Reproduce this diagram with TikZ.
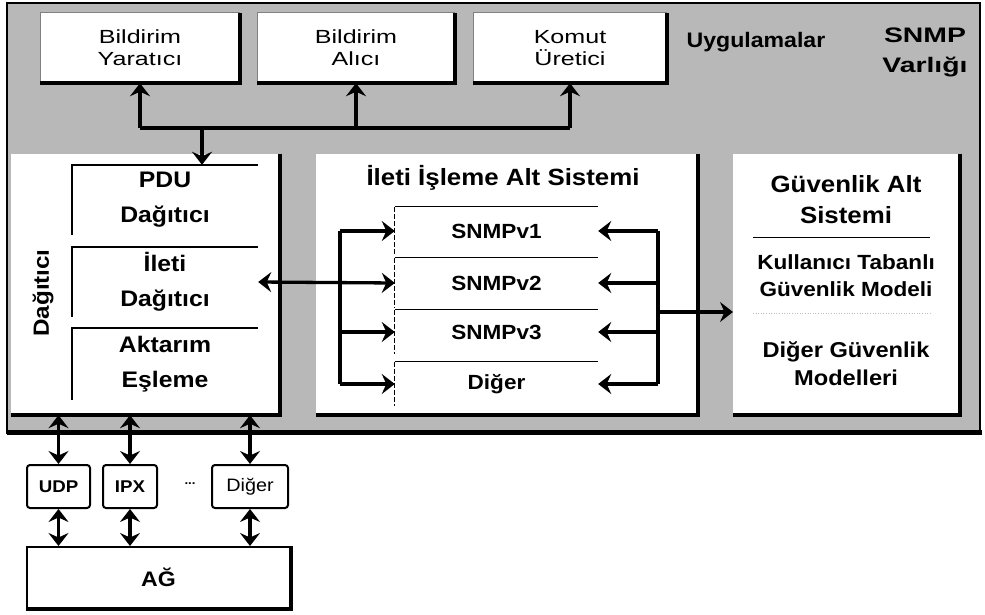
\documentclass[tikz,border=0pt]{standalone}
\usepackage{fontspec}
\setmainfont{Liberation Sans}[FakeStretch=1.1]
\newfontfamily\appfont{Liberation Sans}[FakeStretch=1.32]
\newfontfamily\widefont{Liberation Sans}[FakeStretch=1.35]
\usetikzlibrary{arrows.meta}
\definecolor{bggray}{gray}{0.72}

\begin{document}
\begin{tikzpicture}[x=1pt,y=-1pt,
  tip/.tip={Stealth[length=13pt,width=20pt,inset=4.5pt]},
  arr/.style={line width=3.3pt,-tip},
  darr/.style={line width=3.3pt,tip-tip},
  link/.style={line width=3.3pt},
  appbox/.style={fill=white,inner sep=0pt,align=center,
    font=\appfont\fontsize{19}{22}\selectfont},
  panel/.style={fill=white,inner sep=0pt},
  shadowline/.style={line width=3.5pt},
  subbox/.style={fill=white,inner sep=0pt,align=center,minimum width=186,
    font=\bfseries\fontsize{22.5}{35}\selectfont},
  protobox/.style={fill=white,inner sep=0pt,minimum width=203,
    font=\bfseries\fontsize{20.5}{24}\selectfont},
  bold/.style={inner sep=0pt,align=center,font=\bfseries\fontsize{#1}{#1}\selectfont},
  lowbox/.style={draw,fill=white,line width=2pt,rounded corners=3pt,inner sep=0pt,
    minimum height=43,font=\bfseries\fontsize{17}{20}\selectfont},
]
\useasboundingbox (0,0) rectangle (985,615);

% SNMP entity frame
\fill[bggray] (7,3) rectangle (980,433);
\draw[line width=2pt] (7,3) rectangle (980,433);
\draw[line width=5pt] (7,432) -- (982,432);

% applications
\node[appbox,minimum width=200,minimum height=70] (yar) at (140,48) {Bildirim\\Yaratıcı};
\node[appbox,minimum width=198,minimum height=70] (ali) at (356,48) {Bildirim\\Alıcı};
\node[appbox,minimum width=194,minimum height=70] (kom) at (570,48) {Komut\\Üretici};
\foreach \n in {yar,ali,kom}{
  \draw[line width=0.6pt,gray] (\n.south west) -- (\n.north west) -- (\n.north east);
  \draw[shadowline] (\n.north east) -- (\n.south east) -- (\n.south west);
}
\node[bold=21] (apps) at (756,42) {Uygulamalar};
\node[inner sep=0pt,align=center,font=\widefont\bfseries\fontsize{21}{30}\selectfont] (ent) at (925,52) {SNMP\\Varlığı};

% subsystem panels
\node[panel,minimum width=269,minimum height=261] (dag) at (145.5,284.5) {};
\node[panel,minimum width=382,minimum height=261] (ileti) at (507,284.5) {};
\node[panel,minimum width=227,minimum height=261] (guv) at (846.5,284.5) {};
\foreach \n in {dag,ileti,guv}
  \draw[shadowline] (\n.north east) -- (\n.south east) -- (\n.south west);

% dispatcher
\node[bold=22,rotate=90] (dagt) at (43,293) {Dağıtıcı};
\node[subbox,minimum height=70] (pdu) at (165,200) {PDU\\Dağıtıcı};
\node[subbox,minimum height=70] (idag) at (165,282) {İleti\\Dağıtıcı};
\node[subbox,minimum height=72] (akt) at (165,364) {Aktarım\\Eşleme};
\foreach \n in {pdu,idag,akt}
  \draw[line width=1.4pt] (\n.south west) -- (\n.north west) -- (\n.north east);

% message processing subsystem
\node[bold=23.5] (ititle) at (503,178) {İleti İşleme Alt Sistemi};
\node[protobox,minimum height=48] (s1) at (496.5,231) {SNMPv1};
\node[protobox,minimum height=50] (s2) at (496.5,283) {SNMPv2};
\node[protobox,minimum height=44] (s3) at (496.5,332) {SNMPv3};
\node[protobox,minimum height=44] (s4) at (496.5,384) {Diğer};
\foreach \n in {s1,s2,s3,s4}{
  \draw[line width=1.2pt] (\n.north west) -- (\n.north east);
  \draw[line width=1.2pt,dash pattern=on 5pt off 2pt] (\n.north west) -- (\n.south west);
}

% security subsystem
\node[bold=23.5,font=\bfseries\fontsize{23.5}{31}\selectfont] (g1) at (846,200) {Güvenlik Alt\\Sistemi};
\node[bold=20.5,font=\bfseries\fontsize{20.5}{27}\selectfont] (g2) at (846,276) {Kullanıcı Tabanlı\\Güvenlik Modeli};
\node[bold=21.5,font=\bfseries\fontsize{21.5}{28}\selectfont] (g3) at (846,364) {Diğer Güvenlik\\Modelleri};
\draw[line width=1pt] (753,237) -- (930,237);
\draw[line width=0.6pt,gray!50,dotted] (753,313) -- (930,313);

% application bus
\coordinate (bus) at (0,128);
\coordinate (dn) at (202,128);
\draw[link] (yar.south |- bus) -- (kom.south |- bus);
\draw[arr] (yar.south |- bus) -- (yar.south);
\draw[arr] (ali.south |- bus) -- (ali.south);
\draw[arr] (kom.south |- bus) -- (kom.south);
\draw[arr] (dn) -- (dn |- pdu.north);

% dispatcher <-> message processing models
\coordinate (bl) at (340,0);
\coordinate (br) at (658,0);
\draw[link] (bl |- s1.west) -- (bl |- s4.west);
\draw[link] (br |- s1.east) -- (br |- s4.east);
\draw[darr] (idag.east) -- (s2.west);
\foreach \n in {s1,s3,s4}
  \draw[arr] (bl |- \n.west) -- (\n.west);
\foreach \n in {s1,s2,s3,s4}
  \draw[arr] (br |- \n.east) -- (\n.east);
\coordinate (gin) at (733,312);
\draw[arr] (br |- gin) -- (gin);

% transport domains and network
\node[lowbox,minimum width=63] (udp) at (58.5,486.5) {UDP};
\node[lowbox,minimum width=54] (ipx) at (130,486.5) {IPX};
\node[lowbox,minimum width=76,font=\fontsize{18}{20}\selectfont] (dig) at (250,486.5) {Diğer};
\node[inner sep=0pt,font=\bfseries\fontsize{12}{12}\selectfont] (dots) at (190,484) {...};
\node[draw,fill=white,line width=2pt,minimum width=263,minimum height=61,
  font=\bfseries\fontsize{21}{24}\selectfont] (ag) at (158.5,577.5) {AĞ};
\draw[line width=3.5pt] (ag.north east) -- (ag.south east) -- (ag.south west);
\foreach \n in {udp,ipx,dig}{
  \draw[darr] (\n.north |- dag.south) -- (\n.north);
  \draw[darr] (\n.south) -- (\n.south |- ag.north);
}
\end{tikzpicture}
\end{document}
